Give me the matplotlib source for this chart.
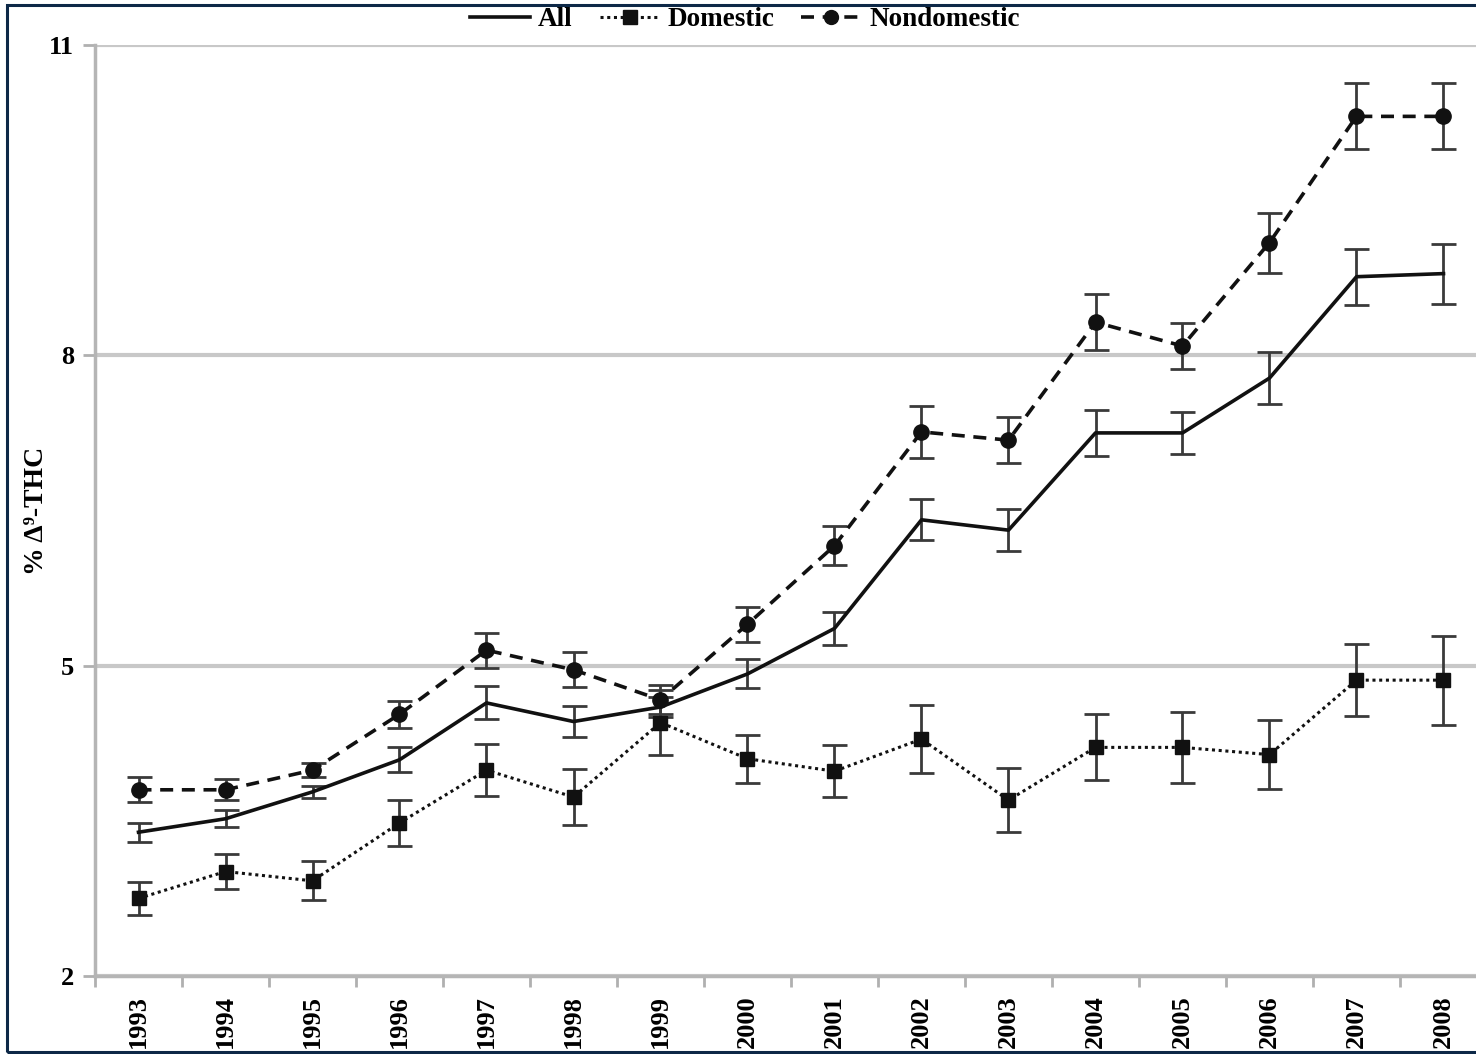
import matplotlib
matplotlib.use("Agg")
import matplotlib.pyplot as plt
from matplotlib.lines import Line2D
from matplotlib.patches import Rectangle
import numpy as np

years = [1993, 1994, 1995, 1996, 1997, 1998, 1999, 2000,
         2001, 2002, 2003, 2004, 2005, 2006, 2007, 2008]

all_mean = [3.39, 3.52, 3.78, 4.09, 4.64, 4.46, 4.60, 4.92,
            5.36, 6.41, 6.31, 7.25, 7.25, 7.78, 8.76, 8.79]
all_err = [0.09, 0.08, 0.06, 0.12, 0.16, 0.15, 0.10, 0.14,
           0.16, 0.20, 0.20, 0.22, 0.20, 0.25, 0.27, 0.29]

dom_mean = [2.75, 3.01, 2.92, 3.48, 3.99, 3.73, 4.45, 4.10,
            3.98, 4.29, 3.70, 4.21, 4.21, 4.14, 4.86, 4.86]
dom_err = [0.16, 0.17, 0.19, 0.22, 0.25, 0.27, 0.31, 0.23,
           0.25, 0.33, 0.31, 0.32, 0.34, 0.33, 0.35, 0.43]

nondom_mean = [3.80, 3.80, 3.99, 4.53, 5.15, 4.96, 4.67, 5.40,
               6.16, 7.26, 7.18, 8.32, 8.09, 9.09, 10.31, 10.31]
nondom_err = [0.12, 0.10, 0.07, 0.13, 0.17, 0.17, 0.14, 0.17,
              0.19, 0.25, 0.22, 0.27, 0.22, 0.29, 0.32, 0.32]

y_ticks = [2, 5, 8, 11]

plt.rcParams['font.family'] = ['Liberation Serif', 'DejaVu Serif']
plt.rcParams['font.weight'] = 'bold'

fig = plt.figure(figsize=(14.76, 10.54), dpi=100)
ax = fig.add_axes([95 / 1476, 78 / 1054, 1 - 95 / 1476, (976 - 45) / 1054])

x = np.arange(len(years))
ebar_kw = dict(ecolor='#3a3a3a', elinewidth=2.0, capsize=9, capthick=2.0, zorder=3)
dash_style = (0, (3.6, 2.4))
dot_style = (0, (1, 1.2))

ax.errorbar(x, all_mean, yerr=all_err, color='#111111', lw=2.6, ls='-',
            marker=None, **ebar_kw)
ax.errorbar(x, dom_mean, yerr=dom_err, color='#111111', lw=2.2, ls=dot_style,
            marker='s', ms=10.5, mfc='#111111', mec='#111111', **ebar_kw)
ax.errorbar(x, nondom_mean, yerr=nondom_err, color='#111111', lw=2.6, ls=dash_style,
            marker='o', ms=11, mfc='#111111', mec='#111111', **ebar_kw)

ax.set_yticks(y_ticks)
ax.set_yticklabels([str(v) for v in y_ticks], fontsize=19, fontweight='bold')
ax.set_xticks(x)
ax.set_xticklabels([str(y) for y in years], rotation=90, fontsize=19, fontweight='bold')
ax.set_xticks(np.arange(-0.5, len(years), 1.0), minor=True)
ax.tick_params(axis='x', which='major', length=0, pad=14)
ax.tick_params(axis='x', which='minor', length=8, width=2, color='#b0b0b0', direction='out')
ax.tick_params(axis='y', length=9, width=2, color='#b0b0b0', pad=6)
ax.set_xlim(-0.5, (1476 - 95) / 87 - 0.5)
ax.set_ylim(2, 11)

ax.grid(axis='y', color='#c8c8c8', lw=3, zorder=0)
ax.set_axisbelow(True)
for side in ['top', 'right']:
    ax.spines[side].set_visible(False)
for side in ['left', 'bottom']:
    ax.spines[side].set_color('#b5b5b5')
    ax.spines[side].set_linewidth(2.5)

ax.set_ylabel('% Δ⁹-THC', fontsize=20, fontweight='bold')
ax.yaxis.set_label_coords(-0.033, 0.5)

handles = [
    Line2D([], [], color='#111111', lw=2.6, ls='-'),
    Line2D([], [], color='#111111', lw=2.2, ls=dot_style, marker='s', ms=10, mfc='#111111'),
    Line2D([], [], color='#111111', lw=2.6, ls=dash_style, marker='o', ms=10, mfc='#111111'),
]
fig.legend(handles, ['All', 'Domestic', 'Nondomestic'], loc='center',
           bbox_to_anchor=(745 / 1476, 1 - 20 / 1054), ncol=3, frameon=False,
           handlelength=2.2, handletextpad=0.3, columnspacing=1.0,
           prop={'weight': 'bold', 'size': 19.5})

fig.patches.append(Rectangle((7 / 1476, 2 / 1054), 1.2, 1 - 7 / 1054,
                             transform=fig.transFigure, fill=False,
                             edgecolor='#0d2847', lw=2.2, zorder=10))

fig.savefig('out.png', dpi=100)
